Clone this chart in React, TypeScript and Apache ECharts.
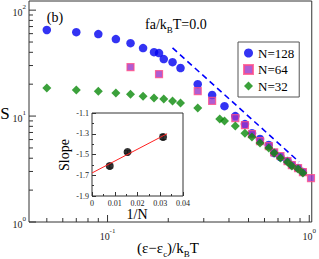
import React, { useEffect, useRef } from "react";
import * as echarts from "echarts";

const FONT = "'Liberation Serif', 'DejaVu Serif', serif";

// Main panel data: S vs (eps - eps_c)/kBT
const xN128 = [0.05, 0.07, 0.09, 0.11, 0.13, 0.15, 0.17, 0.18, 0.19, 0.21, 0.23, 0.28, 0.33, 0.38, 0.43, 0.48, 0.52, 0.57, 0.63, 0.67, 0.72, 0.78, 0.82, 0.88, 0.93];
const sN128 = [65, 62, 59.4, 53.3, 48.8, 43.8, 40.1, 39.3, 34.5, 32.3, 28.4, 20.0, 15.8, 12.4, 10.0, 8.4, 6.9, 6.07, 5.33, 4.48, 4.1, 3.76, 3.45, 3.23, 2.96];

const xN64 = [0.13, 0.18, 0.28, 0.33, 0.43, 0.48, 0.52, 0.57, 0.63, 0.67, 0.72, 0.78, 0.82, 0.88, 0.93, 1.02];
const sN64 = [29.0, 24.9, 17.2, 13.9, 9.58, 8.2, 6.76, 5.81, 5.21, 4.55, 4.2, 3.75, 3.45, 3.23, 2.96, 2.6];

const xN32 = [0.05, 0.07, 0.09, 0.11, 0.13, 0.15, 0.17, 0.19, 0.21, 0.23, 0.28, 0.36, 0.38, 0.43, 0.48, 0.52, 0.57, 0.63, 0.67, 0.72, 0.78, 0.82, 0.88, 0.93];
const sN32 = [18.4, 17.6, 17.2, 16.5, 16.1, 15.4, 14.8, 14.5, 13.9, 13.3, 11.9, 9.37, 8.97, 8.05, 6.9, 6.34, 5.56, 4.99, 4.48, 4.02, 3.68, 3.38, 3.16, 2.9];

// Dashed power-law guide
const guideX = [0.21, 0.89];
const guideS = [44, 3.7];

// Inset: slope vs 1/N
const invN = [1 / 128, 1 / 64, 1 / 32];
const slope = [-1.611, -1.476, -1.331];
const slopeErr = [0.02, 0.012, 0.025];
const fitX = [0, 0.033];
const fitY = [-1.678, -1.3];

// Axis ranges and ticks
const X_MIN = 0.0408;
const X_MAX = 1.029;
const Y_MIN = 1;
const Y_MAX = 122;
const xMajorTicks = [0.1, 1];
const xMinorTicks = [0.05, 0.06, 0.07, 0.08, 0.09, 0.2, 0.3, 0.4, 0.5, 0.6, 0.7, 0.8, 0.9];
const yMajorTicks = [1, 10, 100];
const yMinorTicks = [2, 3, 4, 5, 6, 7, 8, 9, 20, 30, 40, 50, 60, 70, 80, 90];

const zip = (a: number[], b: number[]) => a.map((v, i) => [v, b[i]]);

const logLabel = (v: number) => {
  const l = Math.log10(v);
  const e = Math.round(l);
  if (Math.abs(l - e) > 1e-6) return "";
  return `{b|10}{s|${e}}`;
};

const supRich = {
  b: { fontSize: 10, fontFamily: FONT, color: "#222", lineHeight: 14, verticalAlign: "bottom" },
  s: { fontSize: 7, fontFamily: FONT, color: "#222", lineHeight: 7, verticalAlign: "top" },
};

const subRich = (size: number) => ({
  n: { fontSize: size, fontFamily: FONT, color: "#000", lineHeight: size + 3, verticalAlign: "top" },
  sub: { fontSize: Math.round(size * 0.62), fontFamily: FONT, color: "#000", lineHeight: 8, verticalAlign: "bottom" },
});

export default function App() {
  const ref = useRef<HTMLDivElement>(null);

  useEffect(() => {
    if (!ref.current) return;
    const chart = echarts.init(ref.current, null, { renderer: "svg" });

    const tickData: number[][] = [
      ...xMajorTicks.map((v) => [v, Y_MIN, 7, 0]),
      ...xMinorTicks.map((v) => [v, Y_MIN, 4, 0]),
      ...yMajorTicks.map((v) => [X_MIN, v, 7, 1]),
      ...yMinorTicks.map((v) => [X_MIN, v, 4, 1]),
    ];

    const option: any = {
      animation: false,
      backgroundColor: "#fff",
      textStyle: { fontFamily: FONT },
      grid: [
        { left: 29, right: 4, top: 1, bottom: 37, show: true, borderColor: "#333", borderWidth: 1, backgroundColor: "transparent" },
        { left: 92, top: 113, width: 91, height: 83, show: true, borderColor: "#333", borderWidth: 1, backgroundColor: "#fff" },
      ],
      xAxis: [
        {
          type: "log",
          gridIndex: 0,
          min: X_MIN,
          max: X_MAX,
          axisLine: { show: false },
          axisTick: { show: false },
          splitLine: { show: false },
          axisLabel: { formatter: logLabel, rich: supRich, margin: 5 },
        },
        {
          type: "value",
          gridIndex: 1,
          min: 0,
          max: 0.04,
          interval: 0.01,
          axisLine: { show: false },
          axisTick: { show: true, inside: true, length: 4, lineStyle: { color: "#333" } },
          minorTick: { show: true, splitNumber: 2, length: 2, lineStyle: { color: "#333" } },
          splitLine: { show: false },
          axisLabel: {
            fontSize: 8,
            fontFamily: FONT,
            color: "#222",
            margin: 3,
            formatter: (v: number) => (v === 0 ? "0" : v.toFixed(2)),
          },
        },
      ],
      yAxis: [
        {
          type: "log",
          gridIndex: 0,
          min: Y_MIN,
          max: Y_MAX,
          axisLine: { show: false },
          axisTick: { show: false },
          splitLine: { show: false },
          axisLabel: { formatter: logLabel, rich: supRich, margin: 3 },
        },
        {
          type: "value",
          gridIndex: 1,
          min: -1.9,
          max: -1.1,
          interval: 0.2,
          axisLine: { show: false },
          axisTick: { show: true, inside: true, length: 4, lineStyle: { color: "#333" } },
          minorTick: { show: true, splitNumber: 2, length: 2, lineStyle: { color: "#333" } },
          splitLine: { show: false },
          axisLabel: {
            fontSize: 8,
            fontFamily: FONT,
            color: "#222",
            margin: 3,
            formatter: (v: number) => v.toFixed(1),
          },
        },
      ],
      legend: {
        data: ["N=128", "N=64", "N=32"],
        orient: "vertical",
        left: 238,
        top: 42,
        itemWidth: 9,
        itemHeight: 9,
        itemGap: 2.5,
        padding: [4, 5, 4, 5],
        borderColor: "#555",
        borderWidth: 1,
        backgroundColor: "#fff",
        textStyle: { fontFamily: FONT, fontSize: 13, lineHeight: 14, color: "#000" },
      },
      series: [
        {
          name: "ticks",
          type: "custom",
          xAxisIndex: 0,
          yAxisIndex: 0,
          silent: true,
          clip: false,
          data: tickData,
          renderItem: (params: any, api: any) => {
            const p = api.coord([api.value(0), api.value(1)]);
            const len = api.value(2);
            const k = api.value(3);
            const shape =
              k === 0
                ? { x1: p[0], y1: p[1], x2: p[0], y2: p[1] - len }
                : { x1: p[0], y1: p[1], x2: p[0] + len, y2: p[1] };
            return { type: "line", shape, style: { stroke: "#333", lineWidth: 1 } };
          },
        },
        {
          name: "guide",
          type: "line",
          xAxisIndex: 0,
          yAxisIndex: 0,
          data: zip(guideX, guideS),
          symbol: "none",
          lineStyle: { color: "#0000ff", width: 1.6, type: [6, 4] },
        },
        {
          name: "N=128",
          type: "scatter",
          xAxisIndex: 0,
          yAxisIndex: 0,
          data: zip(xN128, sN128),
          symbol: "circle",
          symbolSize: 8.5,
          itemStyle: { color: "#0000f0" },
        },
        {
          name: "N=64",
          type: "scatter",
          xAxisIndex: 0,
          yAxisIndex: 0,
          data: zip(xN64, sN64),
          symbol: "rect",
          symbolSize: 7,
          clip: false,
          itemStyle: { color: "#9a34c8", borderColor: "#ff4d88", borderWidth: 1.2 },
        },
        {
          name: "N=32",
          type: "scatter",
          xAxisIndex: 0,
          yAxisIndex: 0,
          data: zip(xN32, sN32),
          symbol: "diamond",
          symbolSize: 9,
          itemStyle: { color: "#0a8a0a" },
        },
        {
          name: "fit",
          type: "line",
          xAxisIndex: 1,
          yAxisIndex: 1,
          data: zip(fitX, fitY),
          symbol: "none",
          lineStyle: { color: "#ff2020", width: 1 },
        },
        {
          name: "err",
          type: "custom",
          xAxisIndex: 1,
          yAxisIndex: 1,
          silent: true,
          data: invN.map((v, i) => [v, slope[i], slopeErr[i]]),
          renderItem: (params: any, api: any) => {
            const x = api.value(0);
            const y = api.value(1);
            const e = api.value(2);
            const t = api.coord([x, y + e]);
            const b = api.coord([x, y - e]);
            const st = { stroke: "#777", lineWidth: 1 };
            return {
              type: "group",
              children: [
                { type: "line", shape: { x1: t[0], y1: t[1], x2: b[0], y2: b[1] }, style: st },
                { type: "line", shape: { x1: t[0] - 3.5, y1: t[1], x2: t[0] + 3.5, y2: t[1] }, style: st },
                { type: "line", shape: { x1: b[0] - 3.5, y1: b[1], x2: b[0] + 3.5, y2: b[1] }, style: st },
              ],
            };
          },
        },
        {
          name: "slope",
          type: "scatter",
          xAxisIndex: 1,
          yAxisIndex: 1,
          data: zip(invN, slope),
          symbol: "circle",
          symbolSize: 8,
          itemStyle: { color: "#000" },
        },
      ],
      graphic: [
        {
          type: "text",
          x: 55,
          y: 17,
          style: { text: "(b)", fontSize: 14, fontFamily: FONT, fill: "#000", align: "center", verticalAlign: "middle" },
        },
        {
          type: "text",
          x: 145,
          y: 26,
          style: {
            text: "{n|fa/k}{sub|B}{n|T=0.0}",
            rich: subRich(14),
            align: "left",
            verticalAlign: "middle",
          },
        },
        {
          type: "text",
          x: 5,
          y: 113,
          style: { text: "S", fontSize: 17, fontFamily: FONT, fill: "#000", align: "center", verticalAlign: "middle" },
        },
        {
          type: "text",
          x: 168,
          y: 249,
          style: {
            text: "{n|(ε−ε}{sub|c}{n|)/k}{sub|B}{n|T}",
            rich: subRich(15),
            align: "center",
            verticalAlign: "middle",
          },
        },
        {
          type: "text",
          x: 137,
          y: 214,
          style: { text: "1/N", fontSize: 14, fontFamily: FONT, fill: "#000", align: "center", verticalAlign: "middle" },
        },
        {
          type: "text",
          x: 64,
          y: 155,
          rotation: Math.PI / 2,
          style: { text: "Slope", fontSize: 14, fontFamily: FONT, fill: "#000", align: "center", verticalAlign: "middle" },
        },
      ],
    };

    chart.setOption(option);
    return () => chart.dispose();
  }, []);

  return (
    <div
      ref={ref}
      style={{ position: "fixed", left: 0, top: 0, width: 319, height: 259 }}
    />
  );
}
